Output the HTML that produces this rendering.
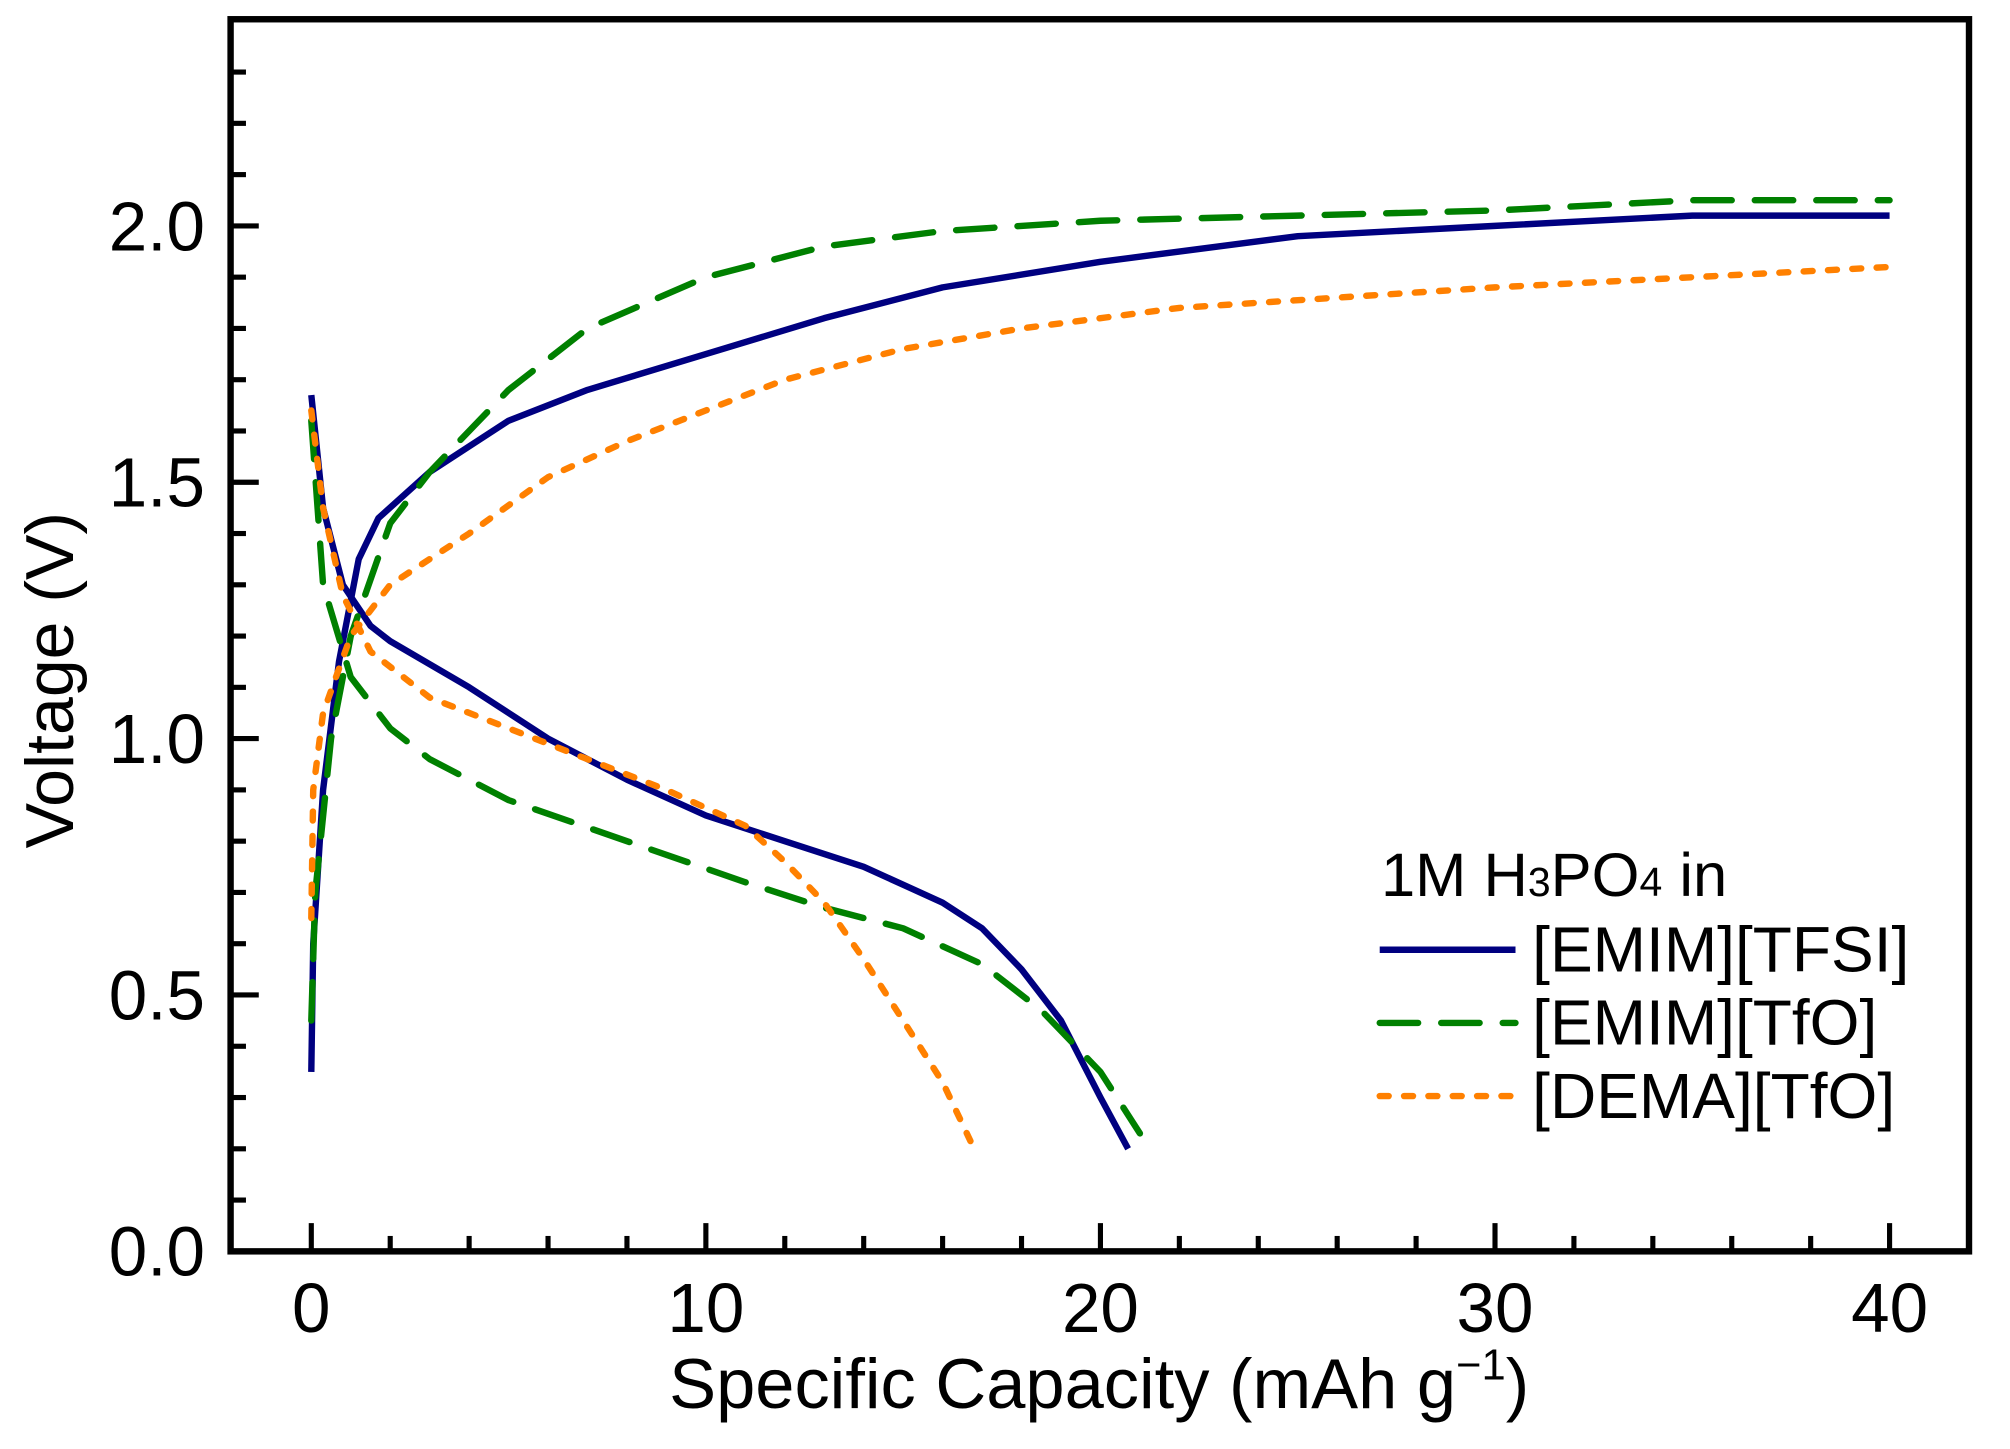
<!DOCTYPE html>
<html><head><meta charset="utf-8"><style>
html,body{margin:0;padding:0;background:#fff}
svg{display:block}
text{font-family:"Liberation Sans",Arial,sans-serif;fill:#000}
</style></head><body>
<svg id="chart" width="2010" height="1449" viewBox="0 0 1569 1129" preserveAspectRatio="none" xmlns="http://www.w3.org/2000/svg">
<g id="plot"></g>
<g id="axes"></g>
<g id="legend">
<text x="1078" y="698" font-size="48">1M H<tspan font-size="32">3</tspan>PO<tspan font-size="32">4</tspan> in</text>
</g>
</svg>
<script>
const xTicks=[0,10,20,30,40];
const yTicks=[0.0,0.5,1.0,1.5,2.0];
const seriesNames=["[EMIM][TFSI]","[EMIM][TfO]","[DEMA][TfO]"];
const tfsiChargeX=[0,0.05,0.3,0.7,1.2,1.7,3,5,7,10,13,16,20,25,30,35,40];
const tfsiChargeY=[0.35,0.6,0.9,1.15,1.35,1.43,1.52,1.62,1.68,1.75,1.82,1.88,1.93,1.98,2.0,2.02,2.02];
const tfsiDisX=[0,0.3,0.8,1.5,2,4,6,8,10,12,14,16,17,18,19,20,20.7];
const tfsiDisY=[1.67,1.45,1.3,1.22,1.19,1.1,1.0,0.92,0.85,0.8,0.75,0.68,0.63,0.55,0.45,0.3,0.2];
const tfoChargeX=[0,0.1,0.5,1,2,3,5,7,10,13,16,20,25,30,35,40];
const tfoChargeY=[0.45,0.7,1.0,1.2,1.42,1.52,1.68,1.8,1.9,1.96,1.99,2.01,2.02,2.03,2.05,2.05];
const tfoDisX=[0,0.3,1,2,3,5,8,11,13,15,17,18.5,20,21];
const tfoDisY=[1.62,1.3,1.12,1.02,0.96,0.88,0.8,0.72,0.67,0.63,0.56,0.47,0.35,0.23];
const demaChargeX=[0,0.05,0.3,1,2,4,6,8,10,12,15,18,22,26,30,35,40];
const demaChargeY=[0.65,0.9,1.05,1.2,1.3,1.4,1.51,1.58,1.64,1.7,1.76,1.8,1.84,1.86,1.88,1.9,1.92];
const demaDisX=[0,0.3,0.8,1.5,3,5,7,9,11,12,13,14,15,16,16.8];
const demaDisY=[1.64,1.45,1.28,1.17,1.08,1.02,0.96,0.9,0.83,0.76,0.68,0.57,0.45,0.33,0.2];

const NS="http://www.w3.org/2000/svg";
const L=180,R=1537,T=15,B=975;
const sx=v=>243+v*(1475-243)/40;
const sy=v=>975-v*(975-176)/2;
function mk(tag,parent){const e=document.createElementNS(NS,tag);parent.appendChild(e);return e;}
const plot=document.getElementById('plot'),axes=document.getElementById('axes'),legend=document.getElementById('legend');
const styles=[{c:"#000080",d:"",cap:"butt"},{c:"#008000",d:"30 18",cap:"round"},{c:"#ff8000",d:"7 12",cap:"round"}];
function curve(xs,ys,si,name){
  const p=mk('path',plot);
  
  
  p.setAttribute('d',xs.map((x,i)=>(i?'L':'M')+sx(x).toFixed(1)+' '+sy(ys[i]).toFixed(1)).join(' '));
  p.setAttribute('fill','none');p.setAttribute('stroke',styles[si].c);p.setAttribute('stroke-width','5');
  p.setAttribute('stroke-linejoin','round');p.setAttribute('stroke-linecap',styles[si].cap);
  if(styles[si].d){p.setAttribute('stroke-dasharray',styles[si].d);}
}
curve(tfsiChargeX,tfsiChargeY,0,'tfsi-charge-line');
curve(tfsiDisX,tfsiDisY,0,'tfsi-discharge-line');
curve(tfoChargeX,tfoChargeY,1,'tfo-charge-line');
curve(tfoDisX,tfoDisY,1,'tfo-discharge-line');
curve(demaChargeX,demaChargeY,2,'dema-charge-line');
curve(demaDisX,demaDisY,2,'dema-discharge-line');

const frame=mk('rect',axes);


frame.setAttribute('x',L);frame.setAttribute('y',T);frame.setAttribute('width',R-L);frame.setAttribute('height',B-T);
frame.setAttribute('fill','none');frame.setAttribute('stroke','#000');frame.setAttribute('stroke-width','5');
for(let v=0;v<=40;v+=2){
  const t=mk('line',axes);
  
  
  const major=v%10===0;
  t.setAttribute('x1',sx(v));t.setAttribute('x2',sx(v));t.setAttribute('y1',B);t.setAttribute('y2',B-(major?22:12));
  t.setAttribute('stroke','#000');t.setAttribute('stroke-width','4');
}
for(let k=1;k<=23;k++){
  const v=k/10;const t=mk('line',axes);
  
  
  const major=k%5===0;
  t.setAttribute('y1',sy(v));t.setAttribute('y2',sy(v));t.setAttribute('x1',L);t.setAttribute('x2',L+(major?22:12));
  t.setAttribute('stroke','#000');t.setAttribute('stroke-width','4');
}
xTicks.forEach(v=>{
  const t=mk('text',axes);
  
  
  t.setAttribute('x',sx(v));t.setAttribute('y',1038);t.setAttribute('font-size','54');t.setAttribute('text-anchor','middle');
  t.textContent=String(v);
});
yTicks.forEach(v=>{
  const t=mk('text',axes);
  
  
  t.setAttribute('x',160);t.setAttribute('y',sy(v)+19);t.setAttribute('font-size','54');t.setAttribute('text-anchor','end');
  t.textContent=v.toFixed(1);
});
const xt=mk('text',axes);


xt.setAttribute('x',858);xt.setAttribute('y',1097);xt.setAttribute('font-size','55');xt.setAttribute('text-anchor','middle');
xt.innerHTML='Specific Capacity (mAh g<tspan font-size="34" dy="-22">−1</tspan><tspan dy="22">)</tspan>';
const yt=mk('text',axes);


yt.setAttribute('transform','translate(57,530) rotate(-90)');yt.setAttribute('font-size','53');yt.setAttribute('text-anchor','middle');
yt.textContent='Voltage (V)';
seriesNames.forEach((n,i)=>{
  const y=740+i*57;
  const ln=mk('line',legend);
  
  
  ln.setAttribute('x1',1077);ln.setAttribute('x2',1183);ln.setAttribute('y1',y);ln.setAttribute('y2',y);
  ln.setAttribute('stroke',styles[i].c);ln.setAttribute('stroke-width','5');ln.setAttribute('stroke-linecap',styles[i].cap);
  if(styles[i].d){ln.setAttribute('stroke-dasharray',styles[i].d);}
  const tx=mk('text',legend);
  
  
  tx.setAttribute('x',1196);tx.setAttribute('y',y+17);tx.setAttribute('font-size','50');
  tx.textContent=n;
});
</script>
</body></html>
